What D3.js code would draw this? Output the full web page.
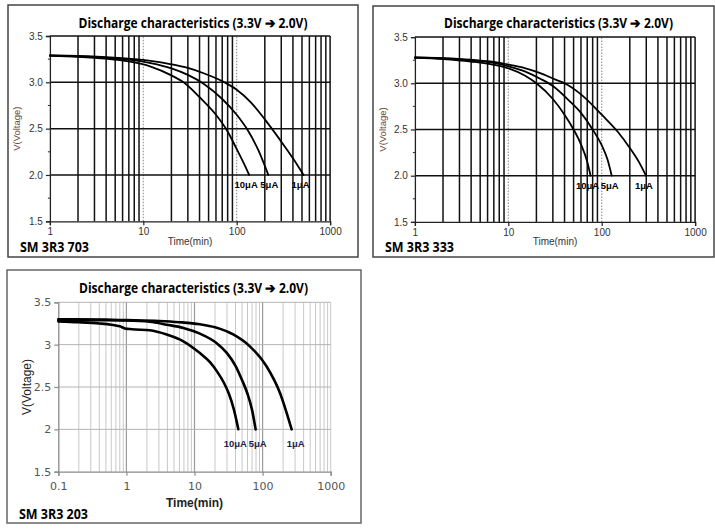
<!DOCTYPE html>
<html><head><meta charset="utf-8">
<script src="https://cdn.jsdelivr.net/npm/d3@7"></script>
<style>html,body{margin:0;padding:0;background:#fff;}svg{display:block;}</style>
</head><body>
<svg id="c" width="715" height="532"></svg>
<script>
// ---------------- DATA ----------------
const seriesNames = ["10μA", "5μA", "1μA"];
const titleText = "Discharge characteristics (3.3V ➔ 2.0V)";
const modelNames = ["SM 3R3 703", "SM 3R3 333", "SM 3R3 203"];

// SM 3R3 703  [time(min), voltage]
const s703_10uA = [[1,3.285],[2,3.275],[4,3.255],[7,3.225],[12,3.17],[20,3.075],[27,3.0],[40,2.84],[60,2.65],[80,2.47],[100,2.28],[120,2.12],[136,2.0]];
const s703_5uA  = [[1,3.29],[2,3.28],[4,3.265],[7,3.245],[12,3.207],[20,3.15],[30,3.08],[45,2.98],[70,2.82],[100,2.65],[130,2.49],[170,2.27],[218,2.0]];
const s703_1uA  = [[1,3.29],[2,3.285],[4,3.272],[7,3.255],[12,3.232],[20,3.195],[30,3.155],[45,3.095],[74,3.0],[100,2.92],[140,2.79],[200,2.6],[300,2.36],[400,2.18],[520,2.0]];

// SM 3R3 333
const s333_10uA = [[1,3.275],[2,3.262],[4,3.235],[7,3.2],[10.4,3.156],[15,3.085],[20,3.0],[30,2.83],[40,2.66],[50,2.5],[60,2.34],[70,2.15],[76,2.0]];
const s333_5uA  = [[1,3.28],[2,3.27],[4,3.25],[7,3.22],[10.4,3.18],[15,3.13],[22,3.05],[30,2.97],[45,2.81],[60,2.68],[80,2.5],[100,2.33],[115,2.18],[128,2.0]];
const s333_1uA  = [[1,3.28],[2,3.272],[4,3.255],[7,3.232],[10.4,3.2],[15,3.165],[22,3.11],[32,3.04],[40,3.0],[60,2.88],[100,2.66],[150,2.47],[200,2.3],[250,2.15],[298,2.0]];

// SM 3R3 203
const s203_10uA = [[0.1,3.275],[0.2,3.265],[0.4,3.25],[0.6,3.235],[0.8,3.216],[0.95,3.192],[1.2,3.182],[2.2,3.17],[3.9,3.12],[6.85,3.04],[12,2.9],[17,2.79],[22,2.67],[27,2.55],[32,2.42],[38,2.23],[44,2.0]];
const s203_5uA  = [[0.1,3.29],[0.5,3.288],[1,3.285],[2.2,3.27],[3.9,3.236],[6.85,3.197],[12,3.13],[21,3.02],[30,2.9],[40,2.75],[50,2.58],[60,2.42],[70,2.23],[79,2.0]];
const s203_1uA  = [[0.1,3.3],[0.5,3.295],[1,3.29],[3,3.28],[6,3.265],[12,3.24],[20,3.205],[37,3.12],[65,2.98],[114,2.745],[180,2.43],[267,2.0]];

const yTickValues = [1.5, 2.0, 2.5, 3.0, 3.5];
const yTickLabelsA = ["1.5", "2.0", "2.5", "3.0", "3.5"];
const yTickLabelsB = ["1.5", "2", "2.5", "3", "3.5"];
const xTicksA = [1, 10, 100, 1000];
const xTickLabelsA = ["1", "10", "100", "1000"];
const xTicksB = [0.1, 1, 10, 100, 1000];
const xTickLabelsB = ["0.1", "1", "10", "100", "1000"];

// ---------------- DRAW ----------------
const svg = d3.select("#c");

function gridValues(domain) {
  const out = [];
  const lo = Math.round(Math.log10(domain[0])), hi = Math.round(Math.log10(domain[1]));
  for (let d = lo; d < hi; d++) for (let k = 2; k <= 9; k++) out.push(+(k * Math.pow(10, d)).toPrecision(3));
  return out;
}

function drawPanel(cfg) {
  const g = svg.append("g");
  g.append("rect").attr("x", cfg.box[0]).attr("y", cfg.box[1])
    .attr("width", cfg.box[2] - cfg.box[0]).attr("height", cfg.box[3] - cfg.box[1])
    .attr("fill", "#fff").attr("stroke", cfg.boxColor).attr("stroke-width", 1.5);

  const x = d3.scaleLog().domain(cfg.xDomain).range(cfg.xRange);
  const y = d3.scaleLinear().domain([1.5, 3.5]).range(cfg.yRange);
  const [x0, x1] = cfg.xRange, [yb, yt] = cfg.yRange;

  g.append("g").selectAll("line").data(gridValues(cfg.xDomain)).join("line")
    .attr("x1", d => x(d)).attr("x2", d => x(d)).attr("y1", yb).attr("y2", yt)
    .attr("stroke", cfg.minorColor).attr("stroke-width", cfg.minorWidth);
  const decades = cfg.xTicks.slice(1, -1);
  g.append("g").selectAll("line").data(decades).join("line")
    .attr("x1", d => x(d)).attr("x2", d => x(d)).attr("y1", yb).attr("y2", yt)
    .attr("stroke", cfg.decadeColor).attr("stroke-width", cfg.decadeWidth)
    .attr("stroke-dasharray", cfg.decadeDash);
  g.append("line").attr("x1", x1).attr("x2", x1).attr("y1", yb).attr("y2", yt)
    .attr("stroke", cfg.minorColor).attr("stroke-width", cfg.minorWidth);
  g.append("g").selectAll("line").data(yTickValues.slice(1)).join("line")
    .attr("x1", x0).attr("x2", x1).attr("y1", d => y(d)).attr("y2", d => y(d))
    .attr("stroke", cfg.hColor).attr("stroke-width", cfg.hWidth);

  const yAxis = d3.axisLeft(y).tickValues(yTickValues).tickFormat((d, i) => cfg.yLabels[i]).tickSize(4).tickPadding(3);
  const ya = g.append("g").attr("transform", `translate(${x0},0)`).call(yAxis);
  const xAxis = d3.axisBottom(x).tickValues(cfg.xTicks).tickFormat((d, i) => cfg.xLabels[i]).tickSize(4).tickPadding(cfg.xPad);
  const xa = g.append("g").attr("transform", `translate(0,${yb})`).call(xAxis);
  [ya, xa].forEach(a => {
    a.select(".domain").attr("stroke", cfg.axisColor).attr("stroke-width", 1.3);
    a.selectAll(".tick line").attr("stroke", cfg.axisColor).attr("stroke-width", 1.2);
    a.selectAll(".tick text").attr("fill", cfg.tickTextColor).attr("font-family", cfg.tickFont)
      .attr("font-size", cfg.tickSize);
  });
  if (cfg.minorY) {
    g.append("g").selectAll("line").data([1.75, 2.25, 2.75, 3.25]).join("line")
      .attr("x1", x0 - 2).attr("x2", x0).attr("y1", d => y(d)).attr("y2", d => y(d))
      .attr("stroke", cfg.axisColor).attr("stroke-width", 1);
  }

  const line = d3.line().x(d => x(d[0])).y(d => y(d[1])).curve(d3.curveMonotoneX);
  g.append("g").selectAll("path").data(cfg.series).join("path")
    .attr("d", d => line(d)).attr("fill", "none").attr("stroke", "#000")
    .attr("stroke-width", cfg.curveWidth).attr("stroke-linejoin", "round").attr("stroke-linecap", "round");

  g.append("g").selectAll("text").data(cfg.series).join("text")
    .attr("x", (d, i) => x(d[d.length - 1][0]) + cfg.labelDx[i])
    .attr("y", y(2.0) + cfg.labelDy)
    .attr("text-anchor", "middle").attr("font-family", "'Liberation Sans Narrow','Liberation Sans',sans-serif")
    .attr("font-weight", "bold").attr("font-size", 9.5).attr("fill", cfg.labelColor)
    .text((d, i) => seriesNames[i]);

  g.append("text").attr("x", cfg.titleX).attr("y", cfg.titleY).attr("text-anchor", "middle")
    .attr("font-family", "'Open Sans','Noto Sans',sans-serif").attr("font-weight", "bold").attr("font-size", 13.5)
    .attr("textLength", 229).attr("lengthAdjust", "spacingAndGlyphs").attr("fill", "#000").text(titleText);
  g.append("text").attr("transform", `translate(${cfg.yTitleX},${(yb + yt) / 2}) rotate(-90)`)
    .attr("text-anchor", "middle").attr("font-family", "'Liberation Sans',Arial,sans-serif")
    .attr("font-size", cfg.yTitleSize).attr("fill", cfg.yTitleColor).text("V(Voltage)");
  g.append("text").attr("x", (x0 + x1) / 2 + cfg.xTitleDx).attr("y", cfg.xTitleY).attr("text-anchor", "middle")
    .attr("font-family", "'Liberation Sans',Arial,sans-serif").attr("font-size", cfg.xTitleSize)
    .attr("font-weight", cfg.xTitleWeight).attr("fill", cfg.xTitleColor).text("Time(min)");
  g.append("text").attr("x", cfg.box[0] + 12).attr("y", cfg.modelY)
    .attr("font-family", "'Open Sans','Noto Sans',sans-serif").attr("font-weight", "bold").attr("font-size", 13.5)
    .attr("textLength", 69).attr("lengthAdjust", "spacingAndGlyphs").attr("fill", "#000").text(cfg.model);
}

const styleA = {
  boxColor: "#444", minorColor: "#111", minorWidth: 1.5, decadeColor: "#999", decadeWidth: 1.2, decadeDash: "1.5,1.5",
  hColor: "#111", hWidth: 1.5, axisColor: "#222", tickTextColor: "#333", tickFont: "'Liberation Sans',Arial,sans-serif",
  tickSize: 10, xPad: 3, minorY: true, curveWidth: 1.8, labelColor: "#000", labelDy: 13,
  yTitleSize: 9.5, yTitleColor: "#6b4535", xTitleSize: 10, xTitleWeight: "normal", xTitleColor: "#333", xTitleDx: 0,
  xTicks: xTicksA, xLabels: xTickLabelsA, yLabels: yTickLabelsA, xDomain: [1, 1000]
};

drawPanel(Object.assign({}, styleA, {
  box: [8, 5, 358, 257], xRange: [49.9, 330.1], yRange: [221.3, 36],
  series: [s703_10uA, s703_5uA, s703_1uA], labelDx: [-3, 1, -3],
  titleX: 193, titleY: 27.5, yTitleX: 20, xTitleY: 245, modelY: 252, model: modelNames[0]
}));

drawPanel(Object.assign({}, styleA, {
  box: [373, 6, 714, 257], xRange: [414.9, 695.1], yRange: [221.9, 37.1],
  series: [s333_10uA, s333_5uA, s333_1uA], labelDx: [-3, -2, -2],
  titleX: 558.5, titleY: 28, yTitleX: 386, xTitleY: 245, modelY: 252, model: modelNames[1]
}));

drawPanel({
  box: [7, 270, 361, 523], xDomain: [0.1, 1000], xRange: [58.3, 330.7], yRange: [471.7, 302.3],
  series: [s203_10uA, s203_5uA, s203_1uA], labelDx: [-3, 2, 4], labelDy: 18,
  boxColor: "#666", minorColor: "#c8c8c8", minorWidth: 1, decadeColor: "#9a9a9a", decadeWidth: 1.2, decadeDash: null,
  hColor: "#b4b4b4", hWidth: 1, axisColor: "#8a8a8a", tickTextColor: "#555", tickFont: "'DejaVu Sans',sans-serif",
  tickSize: 11, xPad: 7, minorY: false, curveWidth: 2.6, labelColor: "#1a2150",
  xTicks: xTicksB, xLabels: xTickLabelsB, yLabels: yTickLabelsB,
  titleX: 193.5, titleY: 293, yTitleX: 31, yTitleSize: 12, yTitleColor: "#222",
  xTitleY: 507, xTitleDx: 0, xTitleSize: 12, xTitleWeight: "bold", xTitleColor: "#222",
  modelY: 519, model: modelNames[2]
});
</script>
</body></html>
